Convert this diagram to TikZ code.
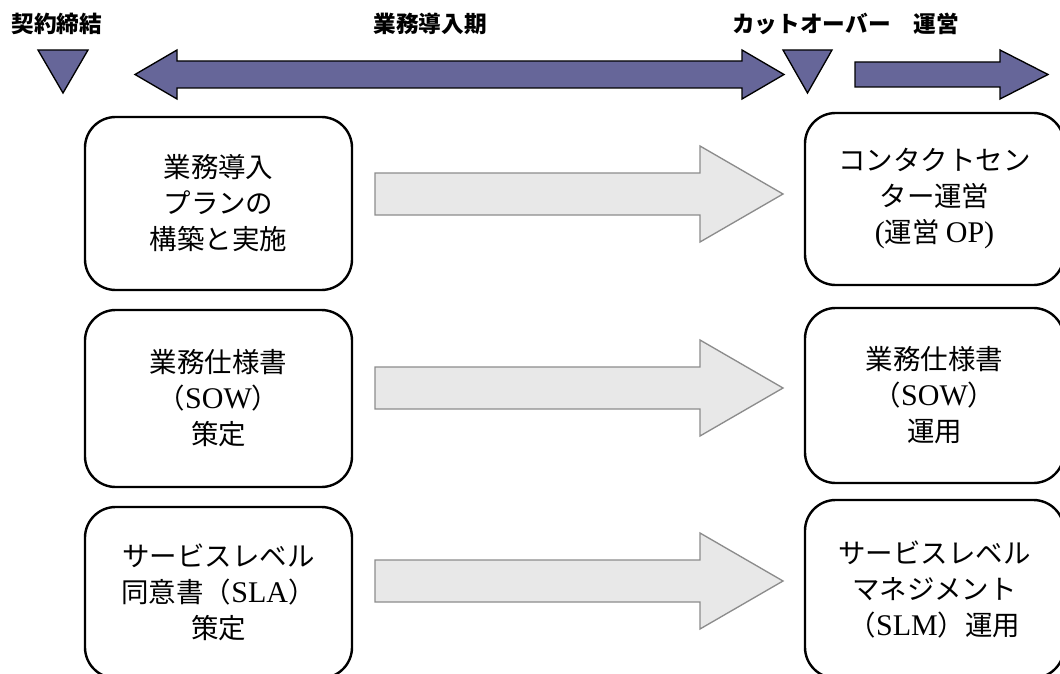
\documentclass[tikz,border=0pt]{standalone}
\usepackage{fontspec}
\setmainfont{Liberation Serif}
\newfontfamily\jp{Noto Sans CJK JP}
\newcommand\latn[1]{{\rmfamily\fontsize{22.5}{27}\selectfont #1}}
\definecolor{navy}{HTML}{666699}
\definecolor{lgray}{HTML}{E8E8E8}
\definecolor{mgray}{HTML}{8C8C8C}
\begin{document}
\begin{tikzpicture}[x=0.75pt,y=-0.75pt,
  box/.style={draw=black, line width=1.8pt, rounded corners=23pt, align=center,
    font=\jp\fontsize{20.6}{27}\selectfont, inner sep=0pt},
  ttl/.style={font=\jp\bfseries\fontsize{17}{20}\selectfont, inner sep=0pt},
  tri/.style={draw=black, fill=navy, line width=1pt, line join=miter},
  barrow/.style={draw=black, fill=navy, line width=1pt},
  garrow/.style={draw=mgray, fill=lgray, line width=1pt}]
\useasboundingbox (0,0) rectangle (1060,674);
\clip (0,0) rectangle (1060,674);

% titles
\node[ttl] (t1) at (57,24) {契約締結};
\node[ttl] (t2) at (430,24) {業務導入期};
\node[ttl, anchor=west] (t3) at (732,24) {カットオーバー　運営};

% timeline markers
\draw[tri] (38,50) -- (88,50) -- (63,93) -- cycle;
\draw[tri] (783,50) -- (832,50) -- (807.5,93) -- cycle;
\draw[barrow] (135,74.5) -- (177,50) -- (177,61) -- (742,61) -- (742,50) -- (784,74.5)
  -- (742,99) -- (742,88) -- (177,88) -- (177,99) -- cycle;
\draw[barrow] (855,62) -- (1000,62) -- (1000,50) -- (1048,74.5) -- (1000,99)
  -- (1000,87) -- (855,87) -- cycle;

% left boxes
\node[box, minimum width=200.25pt, minimum height=129.75pt] (L1) at (218.5,203.5)
  {業務導入\\プランの\\構築と実施};
\node[box, minimum width=200.25pt, minimum height=132.75pt] (L2) at (218.5,398.5)
  {業務仕様書\\（\latn{SOW}）\\策定};
\node[box, minimum width=200.25pt, minimum height=128.25pt] (L3) at (218.5,592.5)
  {サービスレベル\\同意書（\latn{SLA}）\\策定};

% right boxes
\node[box, minimum width=194.25pt, minimum height=129pt] (R1) at (934.5,199)
  {コンタクトセン\\ター運営\\\latn{(}運営 \latn{OP)}};
\node[box, minimum width=194.25pt, minimum height=131.25pt] (R2) at (934.5,395.5)
  {業務仕様書\\（\latn{SOW}）\\運用};
\node[box, minimum width=194.25pt, minimum height=133.5pt] (R3) at (934.5,589)
  {サービスレベル\\マネジメント\\（\latn{SLM}）運用};

% gray arrows
\foreach \c in {194,388,581}{
  \draw[garrow] (375,\c-21) -- (700,\c-21) -- (700,\c-48) -- (783,\c)
    -- (700,\c+48) -- (700,\c+21) -- (375,\c+21) -- cycle;
}
\end{tikzpicture}
\end{document}
